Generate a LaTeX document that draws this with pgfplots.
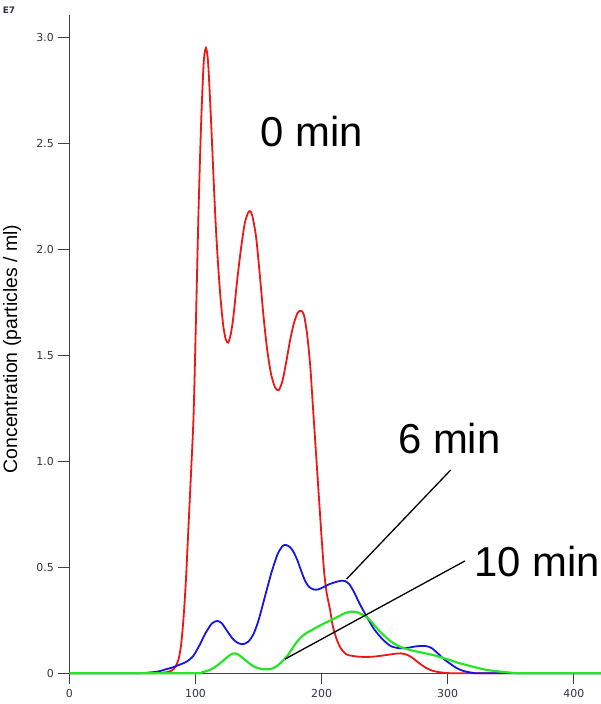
\documentclass[border=0pt]{standalone}
\usepackage{fontspec}
\setmainfont{Liberation Sans}
\newfontfamily\dv{DejaVu Sans}
\usepackage{pgfplots}
\pgfplotsset{compat=1.18}
\definecolor{cred}{RGB}{238,22,22}
\definecolor{cblue}{RGB}{22,22,228}
\definecolor{cgreen}{RGB}{40,228,40}
\definecolor{axgray}{RGB}{64,64,64}
\definecolor{lblgray}{RGB}{50,50,70}
\begin{document}
\begin{tikzpicture}
\begin{axis}[
  at={(0,0)}, anchor=south west,
  scale only axis, width=531.6bp, height=658.3bp,
  xmin=0, xmax=421.6, ymin=0, ymax=3.105,
  axis lines=left, axis line style={-, axgray, line width=1.4bp},
  tick align=outside, major tick length=11bp,
  tick style={axgray, line width=1.4bp},
  xtick={0,100,200,300,400}, xticklabels={0,100,200,300,400},
  ytick={0,0.5,1,1.5,2,2.5,3}, yticklabels={0,0.5,1.0,1.5,2.0,2.5,3.0},
  ticklabel style={font=\dv\fontsize{11}{12}\selectfont, text=lblgray},
  xticklabel style={yshift=-2bp},
  yticklabel style={xshift=-1bp},
  clip=false,
]
\addplot[cred, line width=1.8bp, smooth, tension=0.45] coordinates {
(0,0) (40,0) (60,0) (72,0.002) (78,0.006) (81,0.012) (84,0.03) (86.5,0.065) (88.5,0.13) (90.5,0.26) (92.5,0.45) (94.5,0.70) (96.5,0.95) (98.5,1.22) (100.5,1.70) (102.5,2.2) (104.5,2.6) (106.5,2.88) (108.3,2.95) (110,2.88) (112,2.65) (114,2.38) (116,2.12) (118,1.92) (120,1.76) (122,1.64) (124,1.575) (126,1.56) (128,1.6) (130,1.68) (133,1.85) (136,2.0) (139,2.12) (141.5,2.17) (143.2,2.18) (145,2.16) (148,2.06) (151,1.88) (154,1.68) (157,1.52) (160,1.41) (163,1.35) (166,1.335) (169,1.38) (172,1.47) (175,1.57) (178,1.65) (181,1.70) (183.7,1.71) (186,1.69) (188.5,1.6) (191,1.45) (193,1.27) (196,1.0) (198,0.82) (200,0.64) (202,0.48) (204,0.38) (206.7,0.30) (209,0.22) (212,0.16) (215,0.12) (218,0.098) (221,0.086) (230,0.078) (240,0.078) (250,0.085) (258,0.092) (263,0.094) (268,0.087) (272.5,0.071) (278,0.045) (283,0.025) (288,0.012) (295,0.004) (305,0) (340,0) (380,0) (421.6,0)
};
\addplot[cblue, line width=1.8bp, smooth, tension=0.45] coordinates {
(0,0) (30,0) (50,0) (60,0.002) (70,0.008) (76,0.018) (82,0.028) (88,0.042) (93,0.055) (98,0.08) (103,0.13) (108,0.19) (113,0.235) (117.3,0.247) (121,0.235) (125,0.2) (130,0.16) (134,0.142) (138,0.138) (142,0.15) (146,0.185) (150,0.25) (155,0.36) (160,0.47) (165,0.56) (169,0.6) (171.8,0.605) (175,0.595) (178,0.57) (181,0.53) (184,0.48) (187,0.435) (190,0.408) (193.4,0.396) (197,0.395) (201,0.405) (206,0.42) (211,0.43) (215,0.436) (218.6,0.435) (222,0.42) (226,0.38) (230,0.33) (235.8,0.267) (242,0.205) (249,0.157) (255,0.128) (262,0.118) (268,0.12) (275,0.127) (282,0.129) (287,0.12) (292,0.095) (297,0.067) (302,0.045) (307,0.025) (312,0.012) (318,0.004) (325,0) (360,0) (421.6,0)
};
\addplot[cgreen, line width=2.2bp, smooth, tension=0.45] coordinates {
(0,0) (50,0) (100,0) (105,0.004) (110,0.013) (114,0.024) (118,0.04) (122,0.06) (126,0.08) (129,0.092) (131.3,0.094) (134,0.088) (138,0.07) (142,0.05) (146,0.033) (150,0.024) (154,0.019) (157.7,0.019) (161,0.023) (165,0.036) (168.5,0.055) (172.3,0.078) (176,0.11) (180,0.145) (184,0.172) (188,0.19) (192,0.203) (197,0.22) (203,0.238) (209,0.255) (214,0.27) (219,0.285) (223.9,0.291) (228,0.288) (232,0.278) (235.8,0.265) (240,0.24) (245,0.205) (249,0.181) (255,0.15) (262,0.126) (270,0.11) (280,0.097) (288.6,0.086) (295,0.075) (302,0.062) (308,0.05) (315,0.039) (322,0.028) (330,0.017) (336,0.012) (343,0.007) (350,0.003) (358,0) (390,0) (421.6,0)
};
\draw[black, line width=1.3bp] (axis cs:302.4,0.959) -- (axis cs:219.9,0.445);
\draw[black, line width=1.3bp] (axis cs:313.7,0.530) -- (axis cs:171,0.067);
\end{axis}
\node[anchor=base west, inner sep=0pt, font=\fontsize{42}{48}\selectfont] at (191bp,526.6bp) {0 min};
\node[anchor=base west, inner sep=0pt, font=\fontsize{42}{48}\selectfont] at (328.6bp,220bp) {6 min};
\node[anchor=base west, inner sep=0pt, font=\fontsize{42}{48}\selectfont] at (405bp,96.6bp) {10 min};
\node[rotate=90, inner sep=0pt, font=\fontsize{19.5}{22}\selectfont] at (-57.4bp,324.3bp) {Concentration (particles / ml)};
\node[inner sep=0pt, font=\dv\bfseries\fontsize{9}{10}\selectfont, text=lblgray] at (-60.4bp,663.3bp) {E7};
\pgfresetboundingbox
\useasboundingbox (-69.4bp,-30.7bp) rectangle (531.6bp,673.3bp);
\end{tikzpicture}
\end{document}
